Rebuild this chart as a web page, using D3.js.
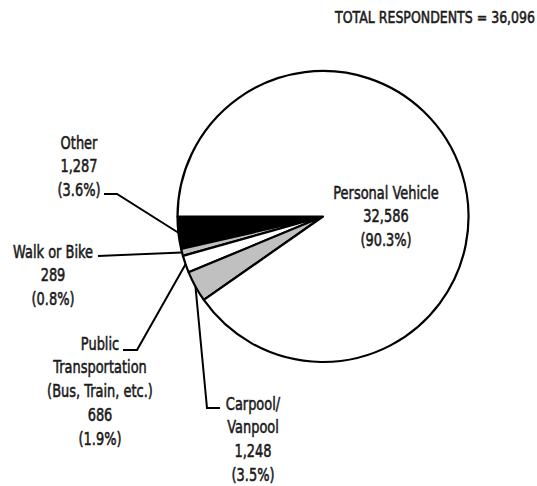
<!DOCTYPE html>
<html>
<head>
<meta charset="utf-8">
<script src="https://cdn.jsdelivr.net/npm/d3@7"></script>
<style>
  body { margin: 0; background: #fff; }
  svg text {
    font-family: "DejaVu Sans", sans-serif;
    font-size: 18px;
    fill: #1a1a1a;
    stroke: #1a1a1a;
    stroke-width: 0.6px;
  }
</style>
</head>
<body>
<div id="chart"></div>
<script>
// slices in drawing order, counter-clockwise from 9 o'clock
var categories = ["Other", "Walk or Bike", "Public Transportation", "Carpool/Vanpool", "Personal Vehicle"]
var values = [1287, 289, 686, 1248, 32586]
var labelLines = [
  ["Other"],
  ["Walk or Bike"],
  ["Public", "Transportation", "(Bus, Train, etc.)"],
  ["Carpool/", "Vanpool"],
  ["Personal Vehicle"]
]
var fills = ["#000", "#c0c0c0", "#fff", "#c0c0c0", "#fff"]
var total = d3.sum(values)

var width = 537, height = 486
var cx = 323, cy = 216.5, radius = 145.5
var lineGap = 24
var squeeze = 0.72 // no condensed face installed, so narrow the text by hand

// label block: centre x, centre y of first line, leader points (ends at slice)
var layout = {
  "Other": { x: 79, y: 142, leader: [[104, 194], [117, 194]] },
  "Walk or Bike": { x: 53, y: 251, leader: [[98, 256]] },
  "Public Transportation": { x: 100, y: 343, leader: [[123, 350], [137, 350]] },
  "Carpool/Vanpool": { x: 253, y: 403, leader: [[220, 408], [207, 408]] },
  "Personal Vehicle": { x: 386, y: 192, leader: null }
}

var svg = d3.select("#chart").append("svg")
  .attr("width", width)
  .attr("height", height)

svg.append("text")
  .attr("transform", "translate(535,23) scale(0.76,1)")
  .attr("text-anchor", "end")
  .style("font-size", "16.5px")
  .text("TOTAL RESPONDENTS = " + d3.format(",")(total))

var pie = d3.pie()
  .sort(null)
  .startAngle(3 * Math.PI / 2)
  .endAngle(-Math.PI / 2)

var arcs = pie(values)
var arc = d3.arc().innerRadius(0).outerRadius(radius)
var rim = d3.arc().innerRadius(radius).outerRadius(radius)

var g = svg.append("g")
  .attr("transform", "translate(" + cx + "," + cy + ")")

g.selectAll("path.slice")
  .data(arcs)
  .enter().append("path")
    .attr("class", "slice")
    .attr("d", arc)
    .attr("fill", function(d, i) { return fills[i] })
    .attr("stroke", "#000")
    .attr("stroke-width", 2.2)
    .attr("stroke-linejoin", "round")

var line = d3.line()

arcs.forEach(function(d, i) {
  var name = categories[i]
  var pos = layout[name]
  var lines = labelLines[i].concat([
    d3.format(",")(values[i]),
    "(" + (values[i] / total * 100).toFixed(1) + "%)"
  ])

  if (pos.leader) {
    var c = rim.centroid(d)
    var pts = pos.leader.concat([[c[0] + cx, c[1] + cy]])
    svg.append("path")
      .attr("d", line(pts))
      .attr("fill", "none")
      .attr("stroke", "#000")
      .attr("stroke-width", 2)
  }

  var t = svg.append("text")
    .attr("text-anchor", "middle")
    .attr("transform", "translate(" + pos.x + "," + pos.y + ") scale(" + squeeze + ",1)")
  lines.forEach(function(s, k) {
    t.append("tspan")
      .attr("x", 0)
      .attr("y", k * lineGap + 6.5)
      .text(s)
  })
})
</script>
</body>
</html>
